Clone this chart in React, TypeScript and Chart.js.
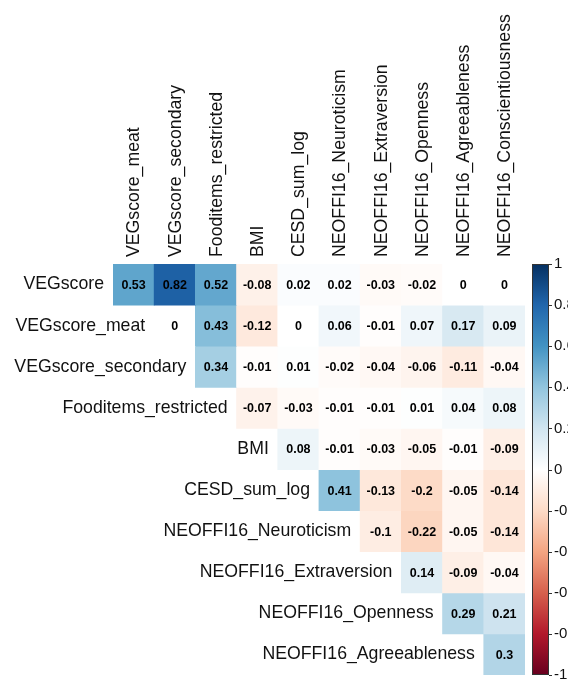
import React, { useEffect, useRef } from 'react';
import { Chart, registerables } from 'chart.js';

Chart.register(...registerables);

// ---- data ----
const ROW_LABELS = [
  'VEGscore',
  'VEGscore_meat',
  'VEGscore_secondary',
  'Fooditems_restricted',
  'BMI',
  'CESD_sum_log',
  'NEOFFI16_Neuroticism',
  'NEOFFI16_Extraversion',
  'NEOFFI16_Openness',
  'NEOFFI16_Agreeableness',
];
const COL_LABELS = [
  'VEGscore_meat',
  'VEGscore_secondary',
  'Fooditems_restricted',
  'BMI',
  'CESD_sum_log',
  'NEOFFI16_Neuroticism',
  'NEOFFI16_Extraversion',
  'NEOFFI16_Openness',
  'NEOFFI16_Agreeableness',
  'NEOFFI16_Conscientiousness',
];

// each row starts at the column with the same index (upper triangle, no diagonal)
const R_VEGSCORE = [0.53, 0.82, 0.52, -0.08, 0.02, 0.02, -0.03, -0.02, 0, 0];
const R_VEGSCORE_MEAT = [0, 0.43, -0.12, 0, 0.06, -0.01, 0.07, 0.17, 0.09];
const R_VEGSCORE_SECONDARY = [0.34, -0.01, 0.01, -0.02, -0.04, -0.06, -0.11, -0.04];
const R_FOODITEMS = [-0.07, -0.03, -0.01, -0.01, 0.01, 0.04, 0.08];
const R_BMI = [0.08, -0.01, -0.03, -0.05, -0.01, -0.09];
const R_CESD = [0.41, -0.13, -0.2, -0.05, -0.14];
const R_NEUROTICISM = [-0.1, -0.22, -0.05, -0.14];
const R_EXTRAVERSION = [0.14, -0.09, -0.04];
const R_OPENNESS = [0.29, 0.21];
const R_AGREEABLENESS = [0.3];

const ROWS = [
  R_VEGSCORE,
  R_VEGSCORE_MEAT,
  R_VEGSCORE_SECONDARY,
  R_FOODITEMS,
  R_BMI,
  R_CESD,
  R_NEUROTICISM,
  R_EXTRAVERSION,
  R_OPENNESS,
  R_AGREEABLENESS,
];

const COLORBAR_TICKS = [1, 0.8, 0.6, 0.4, 0.2, 0, -0.2, -0.4, -0.6, -0.8, -1];
const COLORBAR_TICK_LABELS = ['1', '0.8', '0.6', '0.4', '0.2', '0', '-0.2', '-0.4', '-0.6', '-0.8', '-1'];

// ---- style ----
const PALETTE = [
  '#67001F', '#B2182B', '#D6604D', '#F4A582', '#FDDBC7', '#FFFFFF',
  '#D1E5F0', '#92C5DE', '#4393C3', '#2166AC', '#053061',
];
const FONT = '"Liberation Sans", Arial, Helvetica, sans-serif';

function hexToRgb(h: string) {
  const n = parseInt(h.slice(1), 16);
  return [(n >> 16) & 255, (n >> 8) & 255, n & 255];
}
function colorFor(v: number) {
  const pos = ((v + 1) / 2) * (PALETTE.length - 1);
  const i = Math.min(PALETTE.length - 2, Math.max(0, Math.floor(pos)));
  const t = pos - i;
  const a = hexToRgb(PALETTE[i]);
  const b = hexToRgb(PALETTE[i + 1]);
  const c = a.map((x, k) => Math.round(x + (b[k] - x) * t));
  return `rgb(${c[0]},${c[1]},${c[2]})`;
}

const labelPlugin = {
  id: 'corrLabels',
  afterDatasetsDraw(chart: any) {
    const ctx = chart.ctx;
    const xs = chart.scales.x;
    const ys = chart.scales.y;
    const cb = chart.scales.cb;
    const area = chart.chartArea;
    const cellW = xs.getPixelForValue(1) - xs.getPixelForValue(0);
    ctx.save();

    // cell numbers
    ctx.fillStyle = '#000';
    ctx.font = `bold 12.5px ${FONT}`;
    ctx.textAlign = 'center';
    ctx.textBaseline = 'middle';
    ROWS.forEach((row, i) => {
      row.forEach((v, k) => {
        const j = i + k;
        ctx.fillText(String(v), xs.getPixelForValue(j), ys.getPixelForValue(i + 0.5) + 1);
      });
    });

    // row labels, next to the diagonal
    ctx.fillStyle = '#111';
    ctx.font = `17.7px ${FONT}`;
    ctx.textAlign = 'right';
    ROW_LABELS.forEach((lab, i) => {
      ctx.fillText(lab, xs.getPixelForValue(i) - cellW / 2 - 9, ys.getPixelForValue(i + 0.5));
    });

    // column labels, rotated
    ctx.textAlign = 'left';
    COL_LABELS.forEach((lab, j) => {
      ctx.save();
      ctx.translate(xs.getPixelForValue(j) + 1, area.top - 7);
      ctx.rotate(-Math.PI / 2);
      ctx.fillText(lab, 0, 0);
      ctx.restore();
    });

    // colour bar
    const top = cb.getPixelForValue(1);
    const bottom = cb.getPixelForValue(-1);
    const x0 = area.right + 7;
    const w = 17;
    const grad = ctx.createLinearGradient(0, bottom, 0, top);
    PALETTE.forEach((c, k) => grad.addColorStop(k / (PALETTE.length - 1), c));
    ctx.fillStyle = grad;
    ctx.fillRect(x0, top, w, bottom - top);
    ctx.strokeStyle = '#333';
    ctx.lineWidth = 1;
    ctx.strokeRect(x0 + 0.5, top + 0.5, w - 1, bottom - top - 1);

    ctx.font = `15px ${FONT}`;
    ctx.fillStyle = '#111';
    ctx.textAlign = 'left';
    ctx.textBaseline = 'middle';
    COLORBAR_TICKS.forEach((v, k) => {
      const y = cb.getPixelForValue(v);
      ctx.beginPath();
      ctx.moveTo(x0 + w, Math.round(y) + 0.5);
      ctx.lineTo(x0 + w + 3, Math.round(y) + 0.5);
      ctx.stroke();
      ctx.fillText(COLORBAR_TICK_LABELS[k], x0 + w + 5, y);
    });
    ctx.restore();
  },
};

export default function App() {
  const ref = useRef<HTMLCanvasElement | null>(null);
  useEffect(() => {
    document.body.style.margin = '0';
    document.body.style.overflow = 'hidden';
    const canvas = ref.current;
    if (!canvas) return;
    const datasets = ROWS.map((row, i) => ({
      label: ROW_LABELS[i],
      data: COL_LABELS.map((_, j) => (j >= i ? [i, i + 1] : null)),
      backgroundColor: COL_LABELS.map((_, j) => (j >= i ? colorFor(row[j - i]) : 'rgba(0,0,0,0)')),
      borderWidth: 0,
      grouped: false,
      barPercentage: 1,
      categoryPercentage: 1,
      inflateAmount: 0.4,
    }));
    const chart = new Chart(canvas, {
      type: 'bar',
      data: { labels: COL_LABELS, datasets: datasets as any },
      options: {
        animation: false,
        responsive: false,
        maintainAspectRatio: false,
        layout: { padding: { left: 113, right: 43, top: 264, bottom: 6 } },
        plugins: { legend: { display: false }, tooltip: { enabled: false } },
        scales: {
          x: { type: 'category', display: false, offset: true },
          y: { type: 'linear', min: 0, max: 10, reverse: true, display: false },
          cb: { type: 'linear', axis: 'y', position: 'right', min: -1, max: 1, display: false },
        },
      } as any,
      plugins: [labelPlugin],
    });
    return () => chart.destroy();
  }, []);
  return (
    <canvas
      ref={ref}
      width={568}
      height={681}
      style={{ display: 'block', width: 568, height: 681 }}
    />
  );
}
